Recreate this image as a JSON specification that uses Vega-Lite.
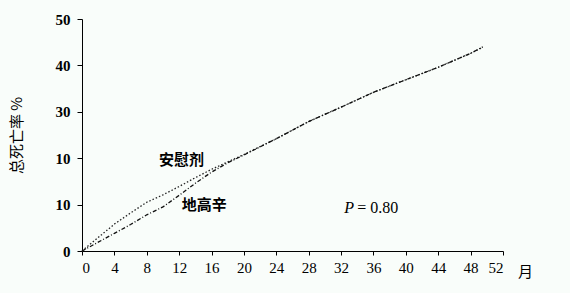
{
  "$schema": "https://vega.github.io/schema/vega-lite/v6.json",
  "width": 421,
  "height": 232,
  "autosize": {"type": "none"},
  "padding": {"left": 82, "top": 19, "right": 67, "bottom": 42},
  "background": "#f9fdfa",
  "config": {"view": {"stroke": null}},
  "datasets": {
    "curves": [
      {"month": 0, "rate": 0, "group": "安慰剂"},
      {"month": 2, "rate": 2.9, "group": "安慰剂"},
      {"month": 4, "rate": 5.8, "group": "安慰剂"},
      {"month": 6, "rate": 8.2, "group": "安慰剂"},
      {"month": 8, "rate": 10.5, "group": "安慰剂"},
      {"month": 10, "rate": 12.1, "group": "安慰剂"},
      {"month": 12, "rate": 13.9, "group": "安慰剂"},
      {"month": 14, "rate": 15.8, "group": "安慰剂"},
      {"month": 16, "rate": 17.6, "group": "安慰剂"},
      {"month": 18, "rate": 19.2, "group": "安慰剂"},
      {"month": 20, "rate": 20.8, "group": "安慰剂"},
      {"month": 24, "rate": 24.2, "group": "安慰剂"},
      {"month": 28, "rate": 27.9, "group": "安慰剂"},
      {"month": 32, "rate": 31.0, "group": "安慰剂"},
      {"month": 36, "rate": 34.2, "group": "安慰剂"},
      {"month": 40, "rate": 36.9, "group": "安慰剂"},
      {"month": 44, "rate": 39.6, "group": "安慰剂"},
      {"month": 48, "rate": 42.6, "group": "安慰剂"},
      {"month": 49.5, "rate": 43.9, "group": "安慰剂"},
      {"month": 0, "rate": 0, "group": "地高辛"},
      {"month": 2, "rate": 1.9, "group": "地高辛"},
      {"month": 4, "rate": 3.8, "group": "地高辛"},
      {"month": 6, "rate": 5.7, "group": "地高辛"},
      {"month": 8, "rate": 7.8, "group": "地高辛"},
      {"month": 10, "rate": 9.5, "group": "地高辛"},
      {"month": 12, "rate": 12.0, "group": "地高辛"},
      {"month": 14, "rate": 14.6, "group": "地高辛"},
      {"month": 16, "rate": 17.0, "group": "地高辛"},
      {"month": 18, "rate": 19.0, "group": "地高辛"},
      {"month": 20, "rate": 20.7, "group": "地高辛"},
      {"month": 24, "rate": 24.2, "group": "地高辛"},
      {"month": 28, "rate": 27.9, "group": "地高辛"},
      {"month": 32, "rate": 31.0, "group": "地高辛"},
      {"month": 36, "rate": 34.2, "group": "地高辛"},
      {"month": 40, "rate": 36.9, "group": "地高辛"},
      {"month": 44, "rate": 39.6, "group": "地高辛"},
      {"month": 48, "rate": 42.6, "group": "地高辛"},
      {"month": 49.5, "rate": 44.0, "group": "地高辛"}
    ],
    "labels": [
      {"month": 12.3, "rate": 19.6, "text": "安慰剂"},
      {"month": 15.1, "rate": 9.9, "text": "地高辛"}
    ]
  },
  "encoding": {
    "x": {
      "field": "month", "type": "quantitative",
      "scale": {"domain": [0, 52], "nice": false},
      "axis": {
        "values": [0, 4, 8, 12, 16, 20, 24, 28, 32, 36, 40, 44, 48, 52],
        "labelOverlap": false,
        "grid": false, "domainColor": "#000", "tickColor": "#000", "tickSize": 4,
        "labelFont": "Liberation Serif", "labelFontSize": 15, "labelColor": "#000", "labelPadding": 5,
        "title": "月", "titleFont": "Noto Sans CJK SC", "titleFontSize": 15, "titleFontWeight": "normal",
        "titleColor": "#000", "titleX": 443, "titleY": 25, "titleBaseline": "alphabetic", "titleAlign": "center", "titleAnchor": null
      }
    },
    "y": {
      "field": "rate", "type": "quantitative",
      "scale": {"domain": [0, 50], "nice": false},
      "axis": {
        "values": [0, 10, 20, 30, 40, 50],
        "labelExpr": "datum.value == 20 ? '10' : datum.label",
        "labelOverlap": false,
        "grid": false, "domainColor": "#000", "tickColor": "#000", "tickSize": 5,
        "labelFont": "Liberation Serif", "labelFontSize": 15, "labelFontWeight": "bold", "labelColor": "#000", "labelPadding": 7,
        "title": "总死亡率 %", "titleFont": "Noto Sans CJK SC", "titleFontSize": 15, "titleFontWeight": "normal",
        "titleColor": "#000", "titlePadding": 31
      }
    }
  },
  "layer": [
    {
      "data": {"name": "curves"},
      "transform": [{"filter": "datum.group == '安慰剂'"}],
      "mark": {"type": "line", "color": "#222", "strokeWidth": 1.3, "strokeDash": [1.5, 2]}
    },
    {
      "data": {"name": "curves"},
      "transform": [{"filter": "datum.group == '地高辛'"}],
      "mark": {"type": "line", "color": "#111", "strokeWidth": 1.3, "strokeDash": [4, 2, 1, 2]}
    },
    {
      "data": {"name": "labels"},
      "mark": {"type": "text", "font": "Noto Sans CJK SC", "fontSize": 15, "fontWeight": "bold", "color": "#000"},
      "encoding": {"text": {"field": "text"}}
    },
    {
      "data": {"values": [{"month": 33.0, "rate": 9.3, "text": "P"}]},
      "mark": {"type": "text", "font": "Liberation Serif", "fontSize": 16, "fontStyle": "italic", "color": "#000"},
      "encoding": {"text": {"field": "text"}}
    },
    {
      "data": {"values": [{"month": 34.0, "rate": 9.3, "text": "= 0.80"}]},
      "mark": {"type": "text", "font": "Liberation Serif", "fontSize": 16, "align": "left", "color": "#000"},
      "encoding": {"text": {"field": "text"}}
    }
  ]
}
